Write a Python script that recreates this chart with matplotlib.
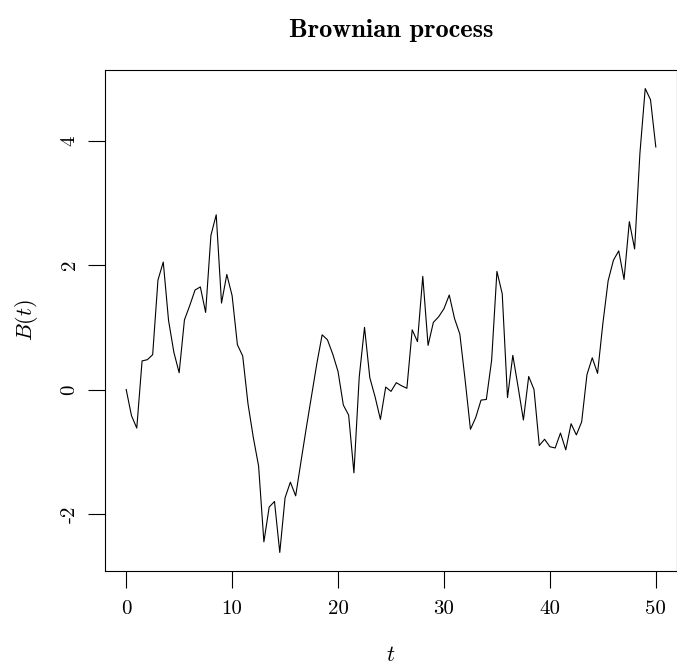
import matplotlib
matplotlib.use("Agg")
import matplotlib.pyplot as plt

plt.rcParams['mathtext.fontset'] = 'cm'
plt.rcParams['axes.unicode_minus'] = False

# time grid, step 0.5
t = [i * 0.5 for i in range(101)]

# values
b = [0.00, -0.42, -0.62, 0.46, 0.48, 0.56, 1.76, 2.05, 1.11, 0.60,
     0.27, 1.12, 1.35, 1.60, 1.65, 1.24, 2.48, 2.81, 1.39, 1.85,
     1.51, 0.72, 0.54, -0.23, -0.77, -1.23, -2.45, -1.89, -1.80, -2.62,
     -1.74, -1.49, -1.71, -1.16, -0.62, -0.10, 0.42, 0.88, 0.80, 0.57,
     0.29, -0.25, -0.41, -1.34, 0.20, 1.00, 0.19, -0.12, -0.48, 0.04,
     -0.03, 0.11, 0.06, 0.02, 0.96, 0.77, 1.82, 0.71, 1.08, 1.17,
     1.30, 1.52, 1.14, 0.89, 0.15, -0.64, -0.45, -0.17, -0.16, 0.47,
     1.90, 1.54, -0.13, 0.55, 0.04, -0.49, 0.21, 0.00, -0.90, -0.80,
     -0.92, -0.94, -0.70, -0.97, -0.55, -0.73, -0.52, 0.24, 0.51, 0.26,
     1.06, 1.75, 2.08, 2.23, 1.77, 2.70, 2.26, 3.80, 4.84, 4.66,
     3.90]

xticks = [0, 10, 20, 30, 40, 50]
yticks = [-2, 0, 2, 4]

W, H = 677, 664
fig = plt.figure(figsize=(W / 100, H / 100), dpi=100)
ax = fig.add_axes([105 / W, 1 - 571 / H, (677 - 105) / W, (571 - 70) / H])

ax.plot(t, b, color='black', lw=0.8)

# R style 4% padding
xr = max(t) - min(t)
yr = max(b) - min(b)
ax.set_xlim(min(t) - 0.04 * xr, max(t) + 0.04 * xr)
ax.set_ylim(min(b) - 0.04 * yr, max(b) + 0.04 * yr)

ax.set_xticks(xticks)
ax.set_xticklabels([str(v) for v in xticks], fontfamily='cmr10', fontsize=15)
ax.set_yticks(yticks)
ax.set_yticklabels([str(v) for v in yticks], fontfamily='cmr10', fontsize=15,
                   rotation=90, va='center')
ax.tick_params(direction='out', length=12, width=0.8)
ax.tick_params(axis='x', pad=9)
ax.tick_params(axis='y', pad=7)
for s in ax.spines.values():
    s.set_linewidth(0.8)

fig.text(391 / W, 1 - 30 / H, 'Brownian process', fontfamily='cmb10',
         fontsize=19, ha='center', va='center')
fig.text(391 / W, 1 - 655 / H, '$t$', fontsize=16, ha='center', va='center')
fig.text(27 / W, 1 - 320 / H, '$B(t)$', fontsize=16, ha='center',
         va='center', rotation=90)

fig.savefig('out.png', dpi=100)
